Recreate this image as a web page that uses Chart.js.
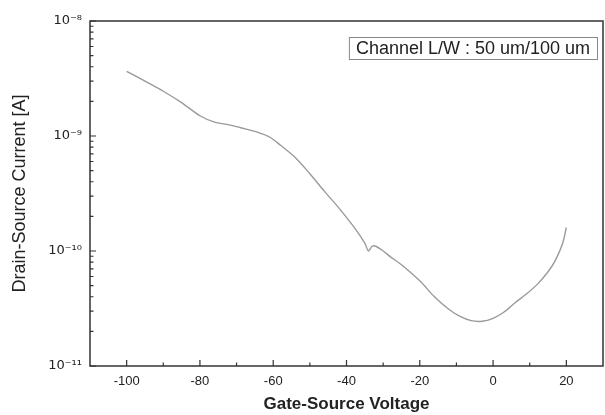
<!DOCTYPE html>
<html>
<head>
<meta charset="utf-8">
<script src="https://cdn.jsdelivr.net/npm/chart.js@4"></script>
<style>
  html, body { margin: 0; padding: 0; background: #fff; }
  canvas { display: block; }
</style>
</head>
<body>
<canvas id="chart" width="605" height="415"></canvas>
<script>
// gate-source voltage (V) and drain-source current (A)
const voltage = [-100, -95, -90, -85, -80, -76, -72, -68, -64, -61, -58, -54, -50, -46, -42, -38, -35, -34, -33, -32, -30, -28, -25, -20, -16, -12, -9, -6, -3, 0, 3, 6, 9, 12, 15, 17, 19, 20];
const current = [3.65e-9, 3.0e-9, 2.45e-9, 1.95e-9, 1.5e-9, 1.32e-9, 1.25e-9, 1.16e-9, 1.07e-9, 9.8e-10, 8.3e-10, 6.5e-10, 4.7e-10, 3.3e-10, 2.35e-10, 1.62e-10, 1.17e-10, 1.0e-10, 1.1e-10, 1.1e-10, 1.0e-10, 8.9e-11, 7.6e-11, 5.5e-11, 4.0e-11, 3.1e-11, 2.7e-11, 2.48e-11, 2.45e-11, 2.6e-11, 2.95e-11, 3.55e-11, 4.2e-11, 5.1e-11, 6.6e-11, 8.3e-11, 1.17e-10, 1.6e-10];

const seriesLabel = 'Channel L/W : 50 um/100 um';
const xTicks = [-100, -80, -60, -40, -20, 0, 20];
const xMinorTicks = [-90, -70, -50, -30, -10, 10];
const yTicks = [1e-11, 1e-10, 1e-9, 1e-8];

const FONT = "'Liberation Sans', Arial, sans-serif";
const SUP = {'-': '\u207B', '0': '\u2070', '1': '\u00B9', '2': '\u00B2', '3': '\u00B3', '4': '\u2074',
             '5': '\u2075', '6': '\u2076', '7': '\u2077', '8': '\u2078', '9': '\u2079'};

function powLabel(v) {
  const e = String(Math.round(Math.log10(v)));
  return '10' + e.split('').map(c => SUP[c]).join('');
}

// frame, inward tick marks and the boxed legend
const framePlugin = {
  id: 'frame',
  afterDraw(chart) {
    const {ctx, chartArea: a, scales: {x, y}} = chart;
    ctx.save();
    ctx.strokeStyle = '#333';
    ctx.lineWidth = 1.5;
    ctx.strokeRect(a.left, a.top, a.right - a.left, a.bottom - a.top);

    ctx.lineWidth = 1.2;
    ctx.beginPath();
    xTicks.forEach(v => {
      const px = x.getPixelForValue(v);
      ctx.moveTo(px, a.bottom); ctx.lineTo(px, a.bottom - 6);
    });
    xMinorTicks.forEach(v => {
      const px = x.getPixelForValue(v);
      ctx.moveTo(px, a.bottom); ctx.lineTo(px, a.bottom - 3.5);
    });
    yTicks.forEach(v => {
      const py = y.getPixelForValue(v);
      ctx.moveTo(a.left, py); ctx.lineTo(a.left + 6, py);
      if (v < 1e-8) {
        for (let k = 2; k <= 9; k++) {
          const pm = y.getPixelForValue(v * k);
          ctx.moveTo(a.left, pm); ctx.lineTo(a.left + 3.5, pm);
        }
      }
    });
    ctx.stroke();

    // legend box
    ctx.font = '18px ' + FONT;
    const tw = ctx.measureText(seriesLabel).width;
    const right = a.right - 6, top = 37, h = 22;
    const left = right - tw - 14;
    ctx.fillStyle = '#fff';
    ctx.fillRect(left, top, right - left, h);
    ctx.strokeStyle = '#888';
    ctx.lineWidth = 1;
    ctx.strokeRect(left + 0.5, top + 0.5, right - left, h);
    ctx.fillStyle = '#222';
    ctx.textBaseline = 'middle';
    ctx.fillText(seriesLabel, left + 7, top + h / 2 + 1);
    ctx.restore();
  }
};

new Chart(document.getElementById('chart'), {
  type: 'line',
  data: {
    datasets: [{
      label: seriesLabel,
      data: voltage.map((v, i) => ({x: v, y: current[i]})),
      borderColor: '#9a9a9a',
      borderWidth: 1.4,
      pointRadius: 0,
      tension: 0.3,
      fill: false
    }]
  },
  options: {
    responsive: false,
    animation: false,
    devicePixelRatio: 1,
    layout: {padding: {top: 21, right: 2, left: 0, bottom: 0}},
    plugins: {legend: {display: false}, tooltip: {enabled: false}},
    scales: {
      x: {
        type: 'linear',
        min: -110,
        max: 30,
        afterBuildTicks: s => { s.ticks = xTicks.map(v => ({value: v})); },
        afterFit: s => { s.height = 49; },
        grid: {display: false, drawTicks: false},
        border: {display: false},
        ticks: {
          padding: 8,
          color: '#222',
          font: {family: FONT, size: 13},
          maxRotation: 0
        },
        title: {
          display: true,
          text: 'Gate-Source Voltage',
          color: '#222',
          font: {family: FONT, size: 17, weight: 'bold'},
          padding: {top: 0, bottom: 0}
        }
      },
      y: {
        type: 'logarithmic',
        min: 1e-11,
        max: 1e-8,
        afterBuildTicks: s => { s.ticks = yTicks.map(v => ({value: v})); },
        afterFit: s => { s.width = 90; },
        grid: {display: false, drawTicks: false},
        border: {display: false},
        ticks: {
          padding: 8,
          color: '#222',
          font: {family: "'DejaVu Sans', sans-serif", size: 13},
          callback: v => powLabel(v)
        },
        title: {
          display: true,
          text: 'Drain-Source Current [A]',
          color: '#222',
          font: {family: FONT, size: 18},
          padding: {top: 9, bottom: 0}
        }
      }
    }
  },
  plugins: [framePlugin]
});
</script>
</body>
</html>
